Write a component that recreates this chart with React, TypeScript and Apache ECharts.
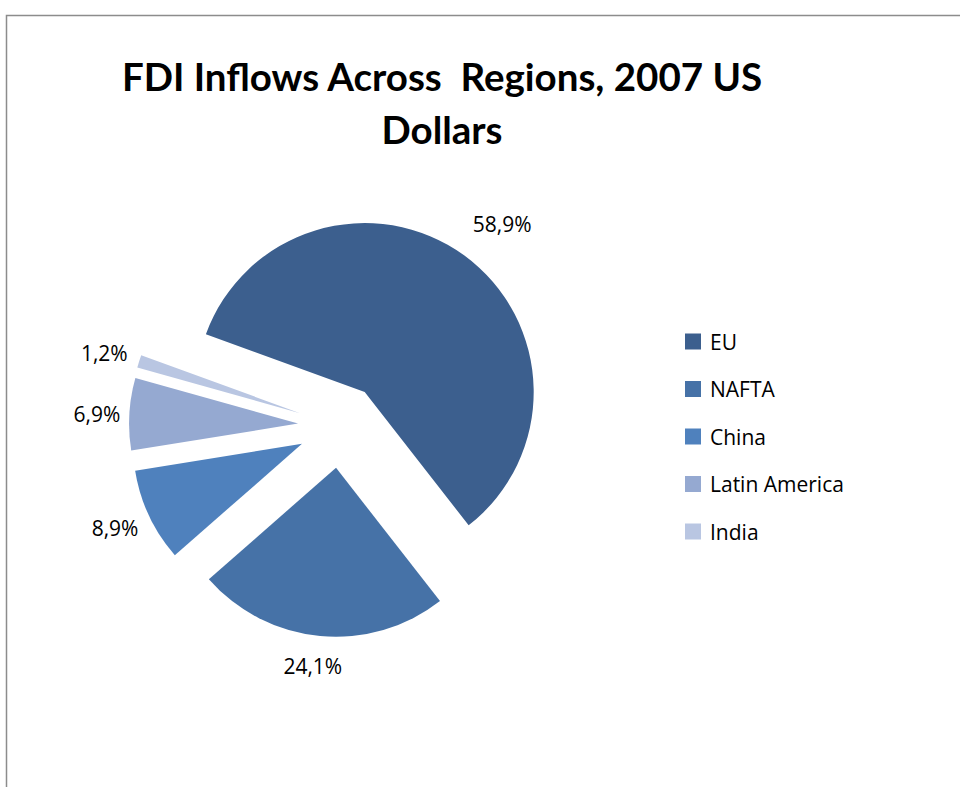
import React, { useEffect, useRef } from "react";
import * as echarts from "echarts";

const categories = ["EU", "NAFTA", "China", "Latin America", "India"];
const shares = [58.9, 24.1, 8.9, 6.9, 1.2];
const colors = ["#3C5F8E", "#4672A7", "#4F81BD", "#95A9D1", "#B9C6E2"];
const labelLengths = [30, 30, 15, 8, 12];
const labelShiftX = [-14, 30, 8, 4, 5];
const labelShiftY = [-7, 0, 6, 0, -5];

export default function App() {
  const ref = useRef<HTMLDivElement>(null);
  useEffect(() => {
    if (!ref.current) return;
    const chart = echarts.init(ref.current, undefined, { renderer: "svg" });
    const titleFont = "Lato, 'Open Sans', sans-serif";
    const font = "'Open Sans', Lato, sans-serif";
    chart.setOption({
      animation: false,
      backgroundColor: "#ffffff",
      title: {
        text: "FDI Inflows Across  Regions, 2007 US\nDollars",
        left: 437,
        top: 44,
        textAlign: "center",
        textStyle: {
          fontFamily: titleFont,
          fontWeight: "bold",
          fontSize: 38.5,
          lineHeight: 53,
          color: "#000000",
        },
      },
      legend: {
        orient: "vertical",
        left: 680,
        top: 326,
        itemWidth: 16,
        itemHeight: 16,
        itemGap: 26.5,
        icon: "rect",
        data: categories,
        selectedMode: false,
        textStyle: {
          fontFamily: font,
          fontSize: 21,
          lineHeight: 16,
          color: "#000000",
          padding: [0, 0, 0, 4],
        },
      },
      graphic: [
        {
          type: "polyline",
          shape: { points: [[6.5, 787], [6.5, 15.5], [960, 15.5]] },
          style: { stroke: "#8c8c8c", lineWidth: 1.5, fill: "none" },
          silent: true,
        },
      ],
      series: [
        {
          type: "pie",
          center: [340, 426],
          radius: 169,
          startAngle: 160,
          clockwise: true,
          selectedMode: "multiple",
          selectedOffset: 42,
          avoidLabelOverlap: false,
          emphasis: { disabled: true },
          label: {
            show: true,
            position: "outside",
            fontFamily: font,
            fontSize: 21,
            color: "#000000",
            formatter: (p: any) => p.value.toFixed(1).replace(".", ",") + "%",
          },
          labelLine: { show: false, length2: 0 },
          labelLayout: (p: any) => ({
            dx: labelShiftX[p.dataIndex],
            dy: labelShiftY[p.dataIndex],
          }),
          data: categories.map((name, i) => ({
            name,
            value: shares[i],
            selected: true,
            itemStyle: { color: colors[i] },
            labelLine: { show: false, length: labelLengths[i], length2: 0 },
          })),
        },
      ],
    });
    return () => chart.dispose();
  }, []);
  return (
    <div
      ref={ref}
      style={{ position: "absolute", left: 0, top: 0, width: 960, height: 787 }}
    />
  );
}
